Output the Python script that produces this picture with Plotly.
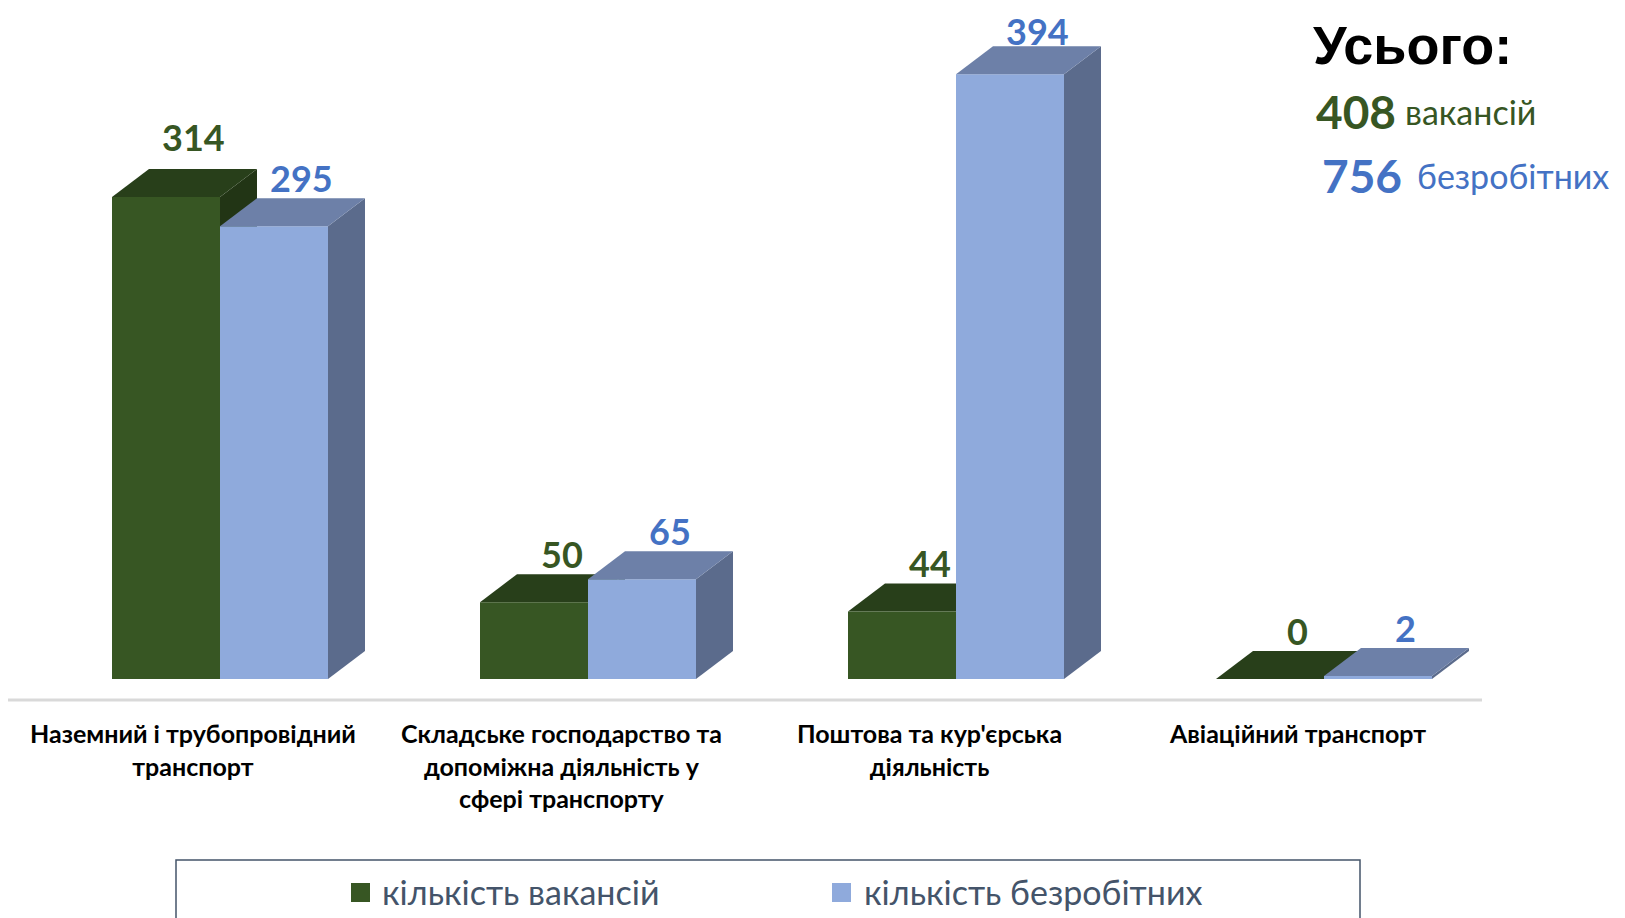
import plotly.graph_objects as go

# ---- data ----
categories = [
    "Наземний і трубопровідний<br>транспорт",
    "Складське господарство та<br>допоміжна діяльність у<br>сфері транспорту",
    "Поштова та кур'єрська<br>діяльність",
    "Авіаційний транспорт",
]
vacancies = [314, 50, 44, 0]
unemployed = [295, 65, 394, 2]
series_names = ["кількість вакансій", "кількість безробітних"]
total_title = "Усього:"
total_words = ["вакансій", "безробітних"]

# ---- style ----
OFF = 8                      # page body margin
W, H = 1625, 918             # page size
FW, FH = W - OFF, H - OFF    # figure size
GREEN_FRONT, GREEN_TOP, GREEN_SIDE = "#375623", "#283F1A", "#223515"
BLUE_FRONT, BLUE_TOP, BLUE_SIDE = "#8FAADC", "#6D80A8", "#5B6B8C"
GREEN_TXT, BLUE_TXT = "#375623", "#4472C4"
LEG_COL = "#44546A"
FONT = "Lato"
LABEL_SIZE = 36
green_label_lift = [12, 0, 0, 0]   # extra px lift of value labels (avoid overlap)


def pxx(x):  # page px -> paper x
    return (x - OFF) / FW


def pxy(y):  # page px -> paper y
    return (FH - (y - OFF)) / FH


px_per_cat = 368.0
cat0_px = 220.0 - OFF        # figure px of category 0 centre
px_per_unit = 1.535
base_px = 679.0 - OFF
plot_bottom_px = 710.0 - OFF
ymin = -(plot_bottom_px - base_px) / px_per_unit
ymax = ymin + plot_bottom_px / px_per_unit
xmin = -cat0_px / px_per_cat
xmax = (FW - cat0_px) / px_per_cat

bw = 108 / px_per_cat        # bar width in x units
dx = 37 / px_per_cat         # depth offset (x units)
dy = 28 / px_per_unit        # depth offset (y units)

xs = list(range(len(categories)))
gx = [i - bw / 2 for i in xs]
bx = [i + bw / 2 for i in xs]

fig = go.Figure()
fig.add_trace(go.Bar(x=gx, y=vacancies, width=bw, name=series_names[0],
                     marker=dict(color=GREEN_FRONT, line=dict(width=0)), showlegend=False))
fig.add_trace(go.Bar(x=bx, y=unemployed, width=bw, name=series_names[1],
                     marker=dict(color=BLUE_FRONT, line=dict(width=0)), showlegend=False))

shapes = []


def poly(pts):
    return "M " + " L ".join(f"{a},{b}" for a, b in pts) + " Z"


def faces(cx, v, top_col, side_col, layer):
    l, r = cx - bw / 2, cx + bw / 2
    side = [(r, 0), (r + dx, dy), (r + dx, v + dy), (r, v)]
    top = [(l, v), (l + dx, v + dy), (r + dx, v + dy), (r, v)]
    out = []
    if v > 0:
        out.append(dict(type="path", path=poly(side), xref="x", yref="y", fillcolor=side_col,
                        line=dict(width=0), layer=layer))
    out.append(dict(type="path", path=poly(top), xref="x", yref="y", fillcolor=top_col,
                    line=dict(width=0), layer=layer))
    return out


for cx, v in zip(gx, vacancies):
    shapes += faces(cx, v, GREEN_TOP, GREEN_SIDE, "below")
for cx, v in zip(bx, unemployed):
    shapes += faces(cx, v, BLUE_TOP, BLUE_SIDE, "above")

# floor line
shapes.append(dict(type="line", xref="paper", yref="paper", x0=pxx(8), x1=pxx(1482),
                   y0=pxy(700), y1=pxy(700), line=dict(color="#D9D9D9", width=3)))

# legend box
shapes.append(dict(type="rect", xref="paper", yref="paper", x0=pxx(176), x1=pxx(1360),
                   y0=-0.05, y1=pxy(860), line=dict(color=LEG_COL, width=1.5),
                   fillcolor="rgba(0,0,0,0)"))
leg_items = [(351, 380, GREEN_FRONT), (832, 862, BLUE_FRONT)]
annotations = []
for (sq, tx, col), name in zip(leg_items, series_names):
    shapes.append(dict(type="rect", xref="paper", yref="paper", x0=pxx(sq), x1=pxx(sq + 19),
                       y0=pxy(902), y1=pxy(883), fillcolor=col, line=dict(width=0)))
    annotations.append(dict(x=pxx(tx), y=pxy(891), xref="paper", yref="paper",
                            text=name, showarrow=False, xanchor="left", yanchor="middle",
                            font=dict(family=FONT, size=34, color=LEG_COL)))


def label_shift(v, lift=0):
    """yshift for a value label, kept inside the figure's top edge."""
    centre = base_px - (v + dy) * px_per_unit
    want = 20 + lift
    min_centre = 0.65 * LABEL_SIZE
    return min(want, centre - min_centre)


# value labels
lab_shift = 0.75 * dx
for cx, v, lift in zip(gx, vacancies, green_label_lift):
    annotations.append(dict(x=cx + lab_shift, y=v + dy, xref="x", yref="y", text=f"<b>{v}</b>",
                            showarrow=False, yanchor="middle", yshift=label_shift(v, lift),
                            borderpad=0,
                            font=dict(family=FONT, size=LABEL_SIZE, color=GREEN_TXT)))
for cx, v in zip(bx, unemployed):
    annotations.append(dict(x=cx + lab_shift, y=v + dy, xref="x", yref="y", text=f"<b>{v}</b>",
                            showarrow=False, yanchor="middle", yshift=label_shift(v),
                            borderpad=0,
                            font=dict(family=FONT, size=LABEL_SIZE, color=BLUE_TXT)))

# category labels
cat_shift = 27 / px_per_cat
for i, c in zip(xs, categories):
    annotations.append(dict(x=i - cat_shift, y=pxy(716), xref="x", yref="paper",
                            text=f"<b>{c}</b>", showarrow=False, yanchor="top", xanchor="center",
                            align="center",
                            font=dict(family=FONT, size=25, color="#000000")))

# totals block
annotations.append(dict(x=pxx(1311), y=pxy(45), xref="paper", yref="paper",
                        text=f"<b>{total_title}</b>", showarrow=False, xanchor="left",
                        yanchor="middle",
                        font=dict(family="Liberation Sans", size=54, color="#000000")))
tot_rows = [(sum(vacancies), total_words[0], GREEN_TXT, 1314, 1403, 111),
            (sum(unemployed), total_words[1], BLUE_TXT, 1320, 1415, 175)]
for num, word, col, nx, wx, cy in tot_rows:
    annotations.append(dict(x=pxx(nx), y=pxy(cy), xref="paper", yref="paper",
                            text=f"<b>{num}</b>", showarrow=False, xanchor="left", yanchor="middle",
                            font=dict(family=FONT, size=46, color=col)))
    annotations.append(dict(x=pxx(wx), y=pxy(cy), xref="paper", yref="paper",
                            text=word, showarrow=False, xanchor="left", yanchor="middle",
                            font=dict(family=FONT, size=34, color=col)))

fig.update_layout(
    width=FW, height=FH,
    margin=dict(l=0, r=0, t=0, b=0),
    paper_bgcolor="white", plot_bgcolor="rgba(0,0,0,0)",
    barmode="overlay",
    xaxis=dict(range=[xmin, xmax], visible=False, fixedrange=True),
    yaxis=dict(range=[ymin, ymax], domain=[(FH - plot_bottom_px) / FH, 1], visible=False,
               fixedrange=True),
    shapes=shapes,
    annotations=annotations,
    showlegend=False,
)

fig.write_html("out.html")
